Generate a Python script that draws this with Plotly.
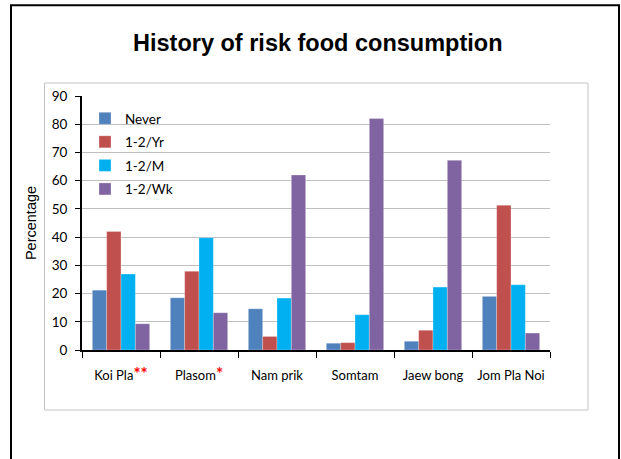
import plotly.graph_objects as go

categories = ["Koi Pla", "Plasom", "Nam prik", "Somtam", "Jaew bong", "Jom Pla Noi"]
category_marks = ["**", "*", "", "", "", ""]
series_names = ["Never", "1-2/Yr", "1-2/M", "1-2/Wk"]
never = [21.2, 18.5, 14.6, 2.4, 3.1, 19.0]
per_year = [42.0, 27.9, 4.8, 2.6, 7.0, 51.3]
per_month = [26.9, 39.8, 18.4, 12.5, 22.3, 23.1]
per_week = [9.3, 13.2, 62.0, 82.0, 67.2, 6.0]
y_ticks = [0, 10, 20, 30, 40, 50, 60, 70, 80, 90]
colors = ["#4F81BD", "#C0504D", "#00B0F0", "#8064A2"]

W, H = 621, 459
L, R, T, B = 82, 550, 96, 350  # plot area in pixels


def px(x):
    return (x - L) / (R - L)


def py(y):
    return (B - y) / (B - T)


tick_text = [
    c + (f"<span style='color:#FF0000;font-size:17px'><b>{m}</b></span>" if m else "")
    for c, m in zip(categories, category_marks)
]

fig = go.Figure()
for i, (name, vals) in enumerate(zip(series_names, [never, per_year, per_month, per_week])):
    fig.add_trace(go.Bar(
        x=categories, y=vals, name=name, legendgroup=name,
        marker=dict(color=colors[i], line=dict(color="rgba(255,255,255,0.45)", width=0.6)),
    ))

fig.update_layout(
    width=W, height=H,
    margin=dict(l=L, r=W - R, t=T, b=H - B),
    paper_bgcolor="white", plot_bgcolor="white",
    barmode="group", bargap=0.265, bargroupgap=0,
    font=dict(family="Lato", size=13, color="#000000"),
    showlegend=True,
    legend=dict(
        x=px(85), y=py(103), xanchor="left", yanchor="top",
        bgcolor="rgba(0,0,0,0)", font=dict(family="Lato", size=13.5),
        tracegroupgap=3, itemclick=False,
    ),
    xaxis=dict(
        tickmode="array", tickvals=categories, ticktext=tick_text, tickangle=0,
        tickson="boundaries", ticks="outside", ticklen=6, tickwidth=1, tickcolor="#000000",
        showline=True, linecolor="#000000", linewidth=2,
        showgrid=False, ticklabelstandoff=12,
        tickfont=dict(family="Lato", size=13),
    ),
    yaxis=dict(
        range=[0, 90], tickmode="array", tickvals=y_ticks,
        ticks="outside", ticklen=5, tickwidth=1, tickcolor="#000000",
        showline=True, linecolor="#000000", linewidth=2,
        showgrid=True, gridcolor="#BFBFBF", gridwidth=1, zeroline=False,
        ticklabelstandoff=5,
        tickfont=dict(family="Lato", size=13.5),
        title=dict(text="Percentage", font=dict(family="Liberation Sans", size=14.5), standoff=12),
    ),
    shapes=[
        dict(type="rect", xref="paper", yref="paper",
             x0=px(11), x1=px(619), y0=py(470), y1=py(5.3),
             line=dict(color="#000000", width=2), fillcolor="rgba(0,0,0,0)", layer="below"),
        dict(type="rect", xref="paper", yref="paper",
             x0=px(44.5), x1=px(588), y0=py(410), y1=py(83),
             line=dict(color="#C4C4C4", width=1), fillcolor="rgba(0,0,0,0)", layer="below"),
    ],
    annotations=[
        dict(text="<b>History of risk food consumption</b>", xref="paper", yref="paper",
             x=px(317.5), y=py(43.5), xanchor="center", yanchor="middle", showarrow=False,
             font=dict(family="Liberation Sans", size=23.5, color="#000000")),
    ],
)

fig.write_html("out.html", config={"displayModeBar": False},
               post_script="document.body.style.margin='0';")
